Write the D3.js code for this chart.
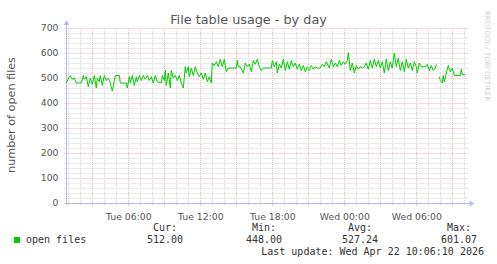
<!DOCTYPE html>
<html>
<head>
<meta charset="utf-8">
<script src="https://cdn.jsdelivr.net/npm/d3@7"></script>
<style>
  html, body { margin: 0; padding: 0; background: #fff; }
  text { font-family: "DejaVu Sans", sans-serif; }
  .mono { font-family: "DejaVu Sans Mono", monospace; }
</style>
</head>
<body>
<div id="chart"></div>
<script>
// minutes after Tue 00:00 (UTC)
const minutes = [
  50, 65, 70, 80, 90, 100, 125, 135, 140, 150, 160, 170, 180, 190, 200, 205,
  215, 220, 230, 240, 250, 260, 270, 280, 295, 315, 320, 350, 355, 365, 370,
  380, 390, 400, 405, 415, 425, 435, 445, 455, 465, 475, 485, 495, 505, 525,
  530, 540, 545, 550, 560, 570, 575, 585, 595, 605, 615, 625, 635, 645, 650,
  660, 665, 675, 685, 695, 705, 715, 725, 735, 745, 755, 765, 775, 780, 790,
  800, 810, 820, 830, 840, 850, 860, 900, 905, 910, 920, 935, 945, 955, 965,
  975, 985, 995, 1005, 1015, 1025, 1035, 1075, 1080, 1090, 1100, 1105, 1115,
  1125, 1135, 1145, 1155, 1165, 1175, 1185, 1195, 1205, 1215, 1225, 1235, 1245,
  1255, 1265, 1275, 1285, 1295, 1305, 1320, 1330, 1340, 1350, 1365, 1375, 1385,
  1395, 1405, 1415, 1425, 1435, 1445, 1455, 1460, 1470, 1480, 1490, 1500, 1510,
  1520, 1530, 1540, 1550, 1560, 1570, 1580, 1590, 1600, 1610, 1620, 1630, 1640,
  1650, 1660, 1670, 1680, 1690, 1700, 1710, 1720, 1730, 1740, 1750, 1760, 1770,
  1780, 1790, 1800, 1805, 1815, 1825, 1845, 1855, 1865, 1875, 1885, 1895, 1900,
  1908, 1915, 1920, 1930, 1935, 1940, 1950, 1960, 1970, 1980, 1990, 2020, 2025,
  2030, 2045
];

// open files at those minutes (null = no data)
const openFiles = [
  480, 505, 510, 495, 500, 480, 480, 510, 495, 505, 465, 500, 475, 510, 460, 500,
  485, 510, 470, 510, 490, 500, 480, 448, 510, 510, 480, 480, 460, 505, 480,
  510, 470, 505, 485, 510, 490, 510, 495, 510, 490, 505, 480, 510, 485, 480,
  510, 490, 530, 470, 520, 460, 530, 500, 510, 490, 510, 480, 460, 545, 520,
  545, 505, 540, 510, 545, 520, 505, 520, 495, 520, 485, 505, 480, 560, 550,
  565, 545, 575, 545, 575, 525, 540, 540, 570, 545, 545, 520, 560, 545, 555,
  525, 570, 555, 575, 545, 530, 540, 540, 570, 545, 565, 520, 555,
  540, 575, 530, 565, 535, 570, 545, 560, 535, 555, 530, 550, 525,
  545, 530, 550, 535, 545, 540, 540, 555, 545, 565, 540, 575, 545,
  560, 545, 570, 550, 565, 555, 570, 601, 530, 560, 520, 550, 535,
  545, 540, 545, 560, 535, 570, 540, 575, 545, 570, 540, 565, 520,
  575, 530, 565, 540, 600, 545, 580, 530, 565, 525, 575, 540, 560,
  530, 565, 545, 520, 560, 545, 545, 555, 530, 550, 530, 540, 555,
  null, 505, 490, 480, 510, 485, 520, 550, 525, 540, 510, 510, 535,
  515, 512
];

const yTicks = [0, 100, 200, 300, 400, 500, 600, 700];

const legendName = "open files";
const statLabels = ["Cur:", "Min:", "Avg:", "Max:"];
const statValues = ["512.00", "448.00", "527.24", "601.07"];

const titleText = "File table usage - by day";
const yLabelText = "number of open files";
const lastUpdate = "Last update: Wed Apr 22 10:06:10 2026";
const watermark = "RRDTOOL / TOBI OETIKER";

const width = 497;
const height = 264;
const plot = { left: 66.5, right: 466.5, top: 28, bottom: 203 };

const tStart = new Date(Date.UTC(2026, 3, 21, 0, 51));
const tEnd = new Date(Date.UTC(2026, 3, 22, 10, 11));
const tBase = Date.UTC(2026, 3, 21, 0, 0);

const data = minutes.map((m, i) => ({
  t: new Date(tBase + m * 60000),
  v: openFiles[i],
}));

const svg = d3
  .select("#chart")
  .append("svg")
  .attr("width", width)
  .attr("height", height);

svg.append("rect").attr("width", width).attr("height", height).attr("fill", "#fff");

const x = d3.scaleUtc().domain([tStart, tEnd]).range([plot.left, plot.right]);
const y = d3.scaleLinear().domain([0, 700]).range([plot.bottom, plot.top]);

const minorColor = "#d6d6d6";
const majorColor = "#f3b4b4";

// minor grid
const minorH = d3.range(20, 701, 20).filter((v) => v % 100 !== 0);
svg.append("g")
  .selectAll("line")
  .data(minorH)
  .enter()
  .append("line")
  .attr("x1", plot.left - 2)
  .attr("x2", plot.right + 1.5)
  .attr("y1", (d) => Math.round(y(d)) + 0.5)
  .attr("y2", (d) => Math.round(y(d)) + 0.5)
  .attr("stroke", minorColor)
  .attr("stroke-dasharray", "1,1");

const hourTicks = x.ticks(d3.utcHour.every(1)).filter((d) => d.getUTCHours() % 3 !== 0);
svg.append("g")
  .selectAll("line")
  .data(hourTicks)
  .enter()
  .append("line")
  .attr("x1", (d) => Math.round(x(d)) + 0.5)
  .attr("x2", (d) => Math.round(x(d)) + 0.5)
  .attr("y1", plot.top)
  .attr("y2", plot.bottom + 2)
  .attr("stroke", minorColor)
  .attr("stroke-dasharray", "1,1");

// major grid
svg.append("g")
  .selectAll("line")
  .data(yTicks.slice(1))
  .enter()
  .append("line")
  .attr("x1", plot.left - 2)
  .attr("x2", plot.right + 1.5)
  .attr("y1", (d) => Math.round(y(d)) + 0.5)
  .attr("y2", (d) => Math.round(y(d)) + 0.5)
  .attr("stroke", majorColor)
  .attr("stroke-dasharray", "1,1");

const majorTicks = x.ticks(d3.utcHour.every(3));
svg.append("g")
  .selectAll("line")
  .data(majorTicks)
  .enter()
  .append("line")
  .attr("x1", (d) => Math.round(x(d)) + 0.5)
  .attr("x2", (d) => Math.round(x(d)) + 0.5)
  .attr("y1", plot.top)
  .attr("y2", plot.bottom + 2)
  .attr("stroke", majorColor)
  .attr("stroke-dasharray", "1,1");

// axes lines with arrows
const axisColor = "#b4bcec";
svg.append("line")
  .attr("x1", plot.left)
  .attr("x2", plot.left)
  .attr("y1", plot.bottom + 2)
  .attr("y2", plot.top - 6)
  .attr("stroke", axisColor);
svg.append("path")
  .attr("d", `M${plot.left - 3},${plot.top - 3}L${plot.left + 3},${plot.top - 3}L${plot.left},${plot.top - 8}Z`)
  .attr("fill", axisColor);
svg.append("line")
  .attr("x1", plot.left - 2)
  .attr("x2", plot.right + 5)
  .attr("y1", plot.bottom + 0.5)
  .attr("y2", plot.bottom + 0.5)
  .attr("stroke", axisColor);
svg.append("path")
  .attr("d", `M${plot.right + 3},${plot.bottom - 2.5}L${plot.right + 3},${plot.bottom + 3.5}L${plot.right + 8},${plot.bottom + 0.5}Z`)
  .attr("fill", axisColor);

// y axis labels
const yAxis = d3.axisLeft(y).tickValues(yTicks).tickSize(0).tickPadding(8);
const gy = svg.append("g").attr("transform", `translate(${plot.left},0)`).call(yAxis);
gy.select(".domain").remove();
gy.selectAll("text")
  .attr("fill", "#555")
  .style("font-family", "DejaVu Sans")
  .style("font-size", "9.3px");

// x axis labels
const xAxis = d3
  .axisBottom(x)
  .ticks(d3.utcHour.every(6))
  .tickFormat(d3.utcFormat("%a %H:%M"))
  .tickSize(0)
  .tickPadding(10);
const gx = svg.append("g").attr("transform", `translate(0,${plot.bottom})`).call(xAxis);
gx.select(".domain").remove();
gx.selectAll("text")
  .attr("fill", "#555")
  .style("font-family", "DejaVu Sans")
  .style("font-size", "9.3px");

// series line
const line = d3
  .line()
  .defined((d) => d.v !== null)
  .x((d) => x(d.t))
  .y((d) => y(d.v));

svg.append("path")
  .datum(data)
  .attr("fill", "none")
  .attr("stroke", "#00cc00")
  .attr("stroke-width", 1)
  .attr("d", line);

// title and labels
svg.append("text")
  .attr("x", width / 2)
  .attr("y", 23.5)
  .attr("text-anchor", "middle")
  .attr("fill", "#555")
  .style("font-size", "12.8px")
  .text(titleText);

svg.append("text")
  .attr("transform", `translate(15,115) rotate(-90)`)
  .attr("text-anchor", "middle")
  .attr("fill", "#555")
  .style("font-size", "11.2px")
  .text(yLabelText);

svg.append("text")
  .attr("transform", `translate(485,56) rotate(90)`)
  .attr("text-anchor", "middle")
  .attr("fill", "#cfcfcf")
  .style("font-size", "7px")
  .text(watermark);

// legend
svg.append("rect")
  .attr("x", 14)
  .attr("y", 237)
  .attr("width", 6)
  .attr("height", 6)
  .attr("fill", "#00cc00");

svg.append("text")
  .attr("class", "mono")
  .attr("x", 26)
  .attr("y", 243)
  .attr("fill", "#333")
  .style("font-size", "10px")
  .text(legendName);

const statRight = [183, 282, 378, 477];
statLabels.forEach((lab, i) => {
  svg.append("text")
    .attr("class", "mono")
    .attr("x", statRight[i] - 6)
    .attr("y", 231)
    .attr("text-anchor", "end")
    .attr("fill", "#333")
    .style("font-size", "10px")
    .text(lab);
  svg.append("text")
    .attr("class", "mono")
    .attr("x", statRight[i])
    .attr("y", 243)
    .attr("text-anchor", "end")
    .attr("fill", "#333")
    .style("font-size", "10px")
    .text(statValues[i]);
});

svg.append("text")
  .attr("class", "mono")
  .attr("x", 484)
  .attr("y", 255)
  .attr("text-anchor", "end")
  .attr("fill", "#333")
  .style("font-size", "10px")
  .text(lastUpdate);
</script>
</body>
</html>
